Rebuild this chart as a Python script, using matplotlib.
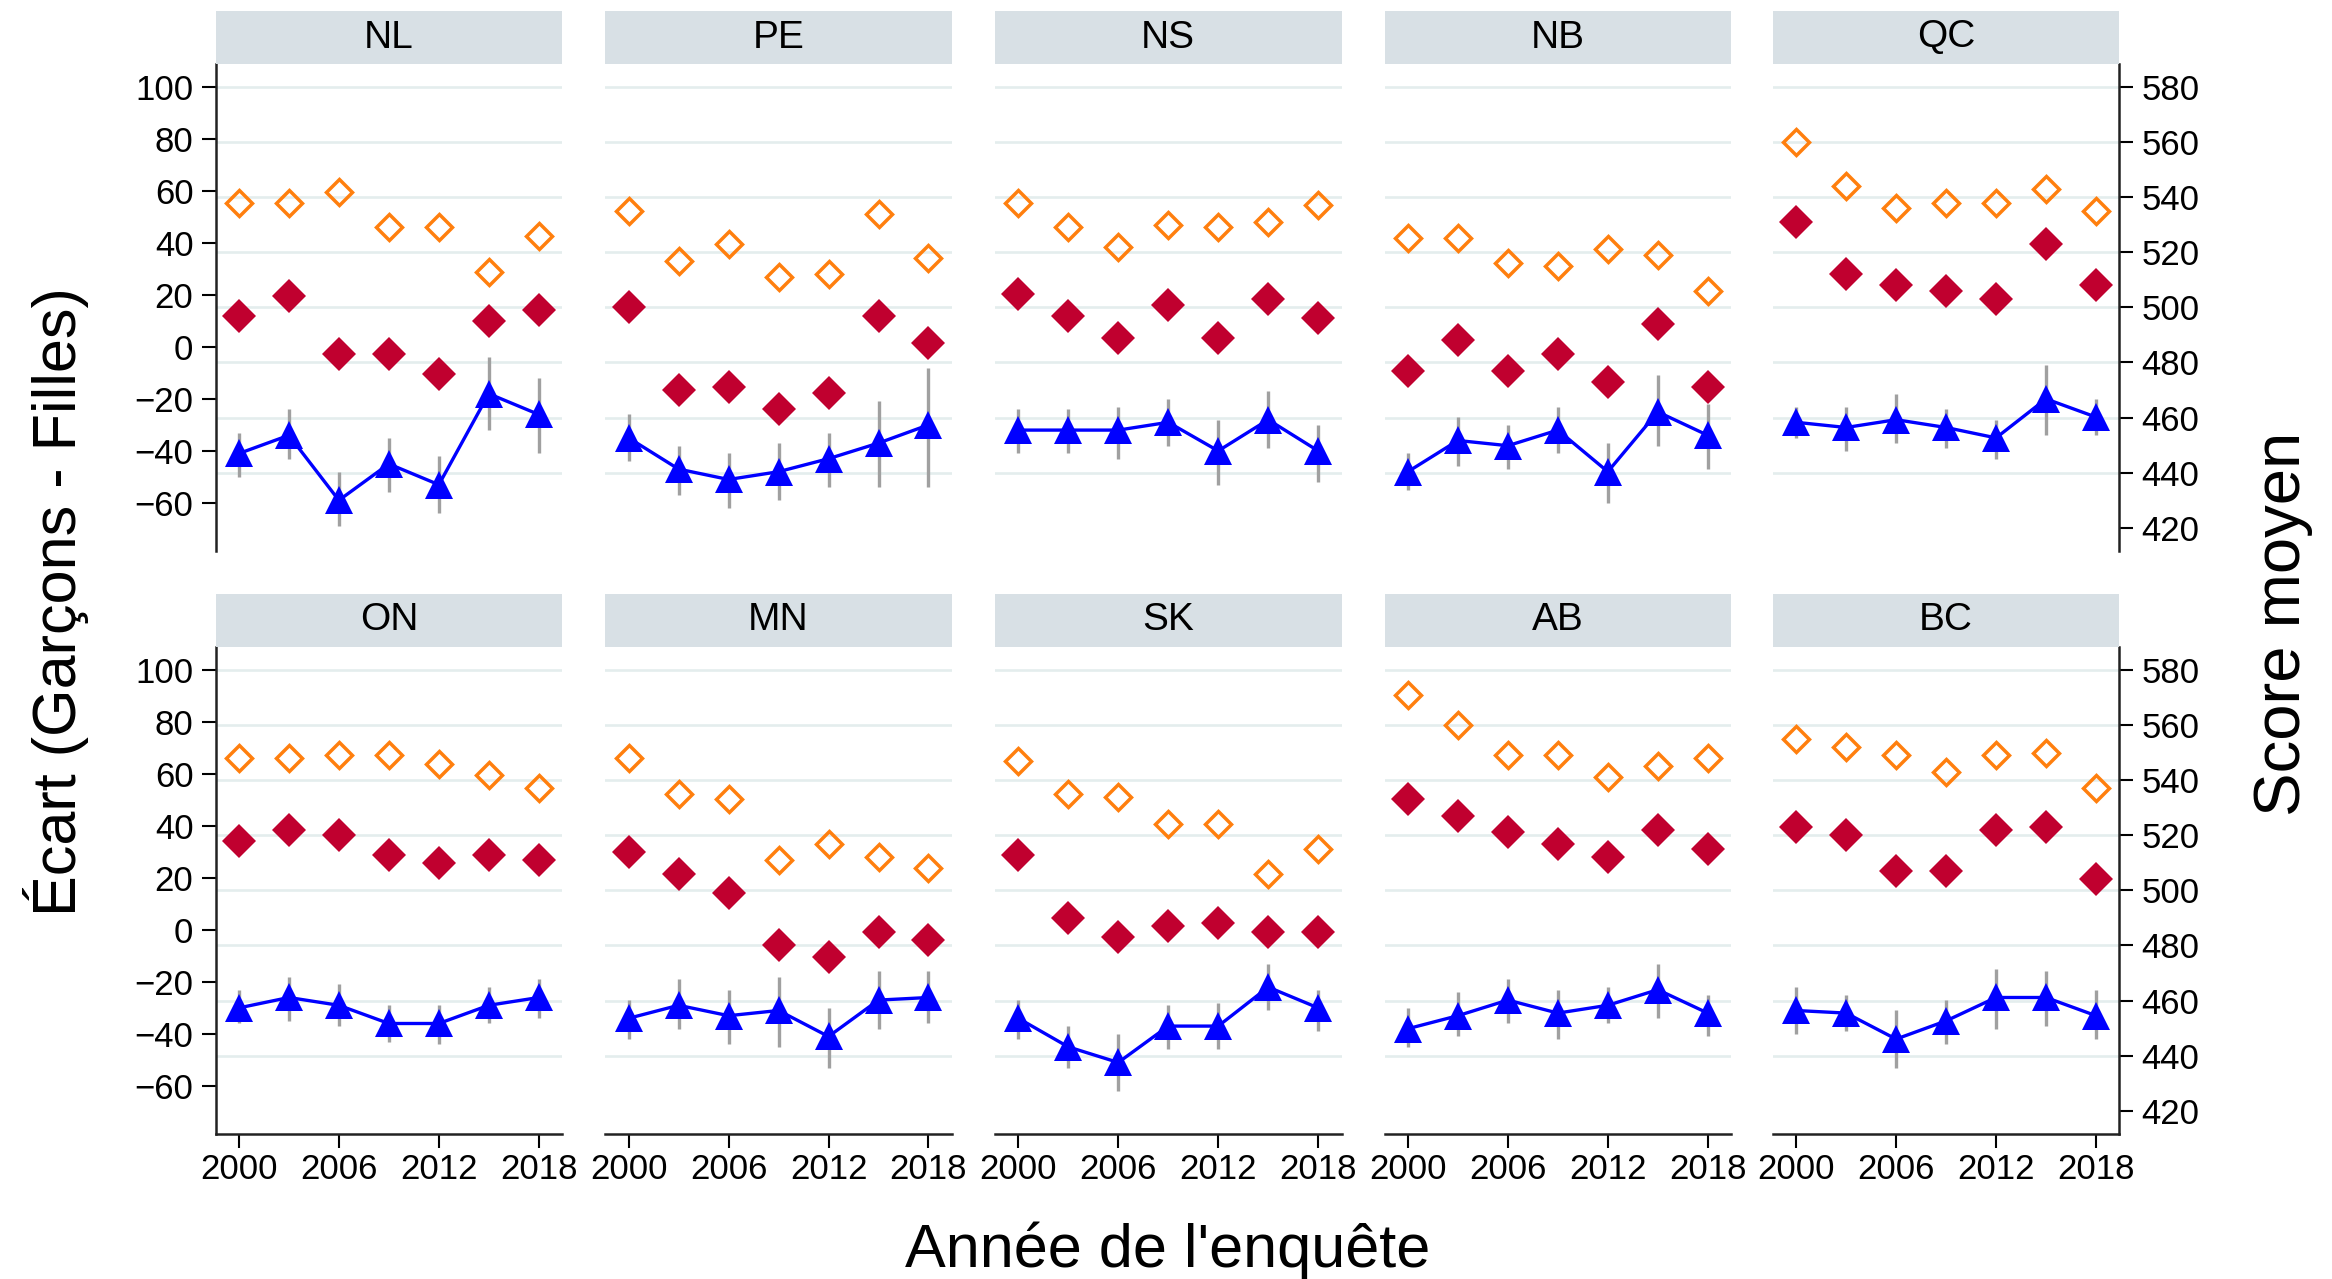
import matplotlib
matplotlib.use("Agg")
import matplotlib.pyplot as plt

plt.rcParams['font.family'] = ['Liberation Sans', 'DejaVu Sans']

# ---------------- data ----------------
provinces = ["NL", "PE", "NS", "NB", "QC", "ON", "MN", "SK", "AB", "BC"]
years = [2000, 2003, 2006, 2009, 2012, 2015, 2018]
xtick_years = [2000, 2006, 2012, 2018]
gap_ticks = [-60, -40, -20, 0, 20, 40, 60, 80, 100]
score_ticks = [420, 440, 460, 480, 500, 520, 540, 560, 580]
grid_scores = [440, 460, 480, 500, 520, 540, 560, 580]

# mean score of girls (open orange diamonds, right axis)
girls_score = [
    [538, 538, 542, 529, 529, 513, 526],  # NL
    [535, 517, 523, 511, 512, 534, 518],  # PE
    [538, 529, 522, 530, 529, 531, 537],  # NS
    [525, 525, 516, 515, 521, 519, 506],  # NB
    [560, 544, 536, 538, 538, 543, 535],  # QC
    [548, 548, 549, 549, 546, 542, 537],  # ON
    [548, 535, 533, 511, 517, 512, 508],  # MN
    [547, 535, 534, 524, 524, 506, 515],  # SK
    [571, 560, 549, 549, 541, 545, 548],  # AB
    [555, 552, 549, 543, 549, 550, 537],  # BC
]
# mean score of boys (filled red diamonds, right axis)
boys_score = [
    [497, 504, 483, 483, 476, 495, 499],
    [500, 470, 471, 463, 469, 497, 487],
    [505, 497, 489, 501, 489, 503, 496],
    [477, 488, 477, 483, 473, 494, 471],
    [531, 512, 508, 506, 503, 523, 508],
    [518, 522, 520, 513, 510, 513, 511],
    [514, 506, 499, 480, 476, 485, 482],
    [513, 490, 483, 487, 488, 485, 485],
    [533, 527, 521, 517, 512, 522, 515],
    [523, 520, 507, 507, 522, 523, 504],
]
# gap boys - girls (blue triangles, left axis)
gap = [
    [-41, -34, -59, -45, -53, -18, -26],
    [-35, -47, -51, -48, -43, -37, -30],
    [-32, -32, -32, -29, -40, -28, -40],
    [-48, -36, -38, -32, -48, -25, -34],
    [-29, -31, -28, -31, -35, -20, -27],
    [-30, -26, -29, -36, -36, -29, -26],
    [-34, -29, -33, -31, -41, -27, -26],
    [-34, -45, -51, -37, -37, -22, -30],
    [-38, -33, -27, -32, -29, -23, -32],
    [-31, -32, -42, -35, -26, -26, -33],
]
gap_low = [
    [-50, -43, -69, -56, -64, -32, -41],
    [-44, -57, -62, -59, -54, -54, -54],
    [-41, -41, -43, -38, -53, -39, -52],
    [-55, -46, -47, -41, -60, -38, -47],
    [-35, -40, -37, -39, -43, -34, -34],
    [-36, -35, -37, -43, -44, -36, -34],
    [-42, -38, -44, -45, -53, -38, -36],
    [-42, -53, -62, -46, -46, -31, -39],
    [-45, -41, -36, -42, -36, -34, -41],
    [-40, -39, -53, -44, -38, -37, -42],
]
gap_high = [
    [-33, -24, -48, -35, -42, -4, -12],
    [-26, -38, -41, -37, -33, -21, -8],
    [-24, -24, -23, -20, -28, -17, -30],
    [-41, -27, -30, -23, -37, -11, -22],
    [-23, -23, -18, -24, -28, -7, -20],
    [-23, -18, -21, -29, -29, -22, -19],
    [-27, -19, -23, -18, -30, -16, -16],
    [-27, -37, -40, -29, -28, -13, -23],
    [-30, -24, -19, -23, -22, -13, -25],
    [-22, -25, -31, -27, -15, -16, -23],
]

# ---------------- style ----------------
W, H = 2332, 1279
c_orange = '#ff7f0e'
c_red = '#c0002f'
c_blue = '#0000ff'
c_ci = '#a0a0a0'
c_grid = '#e4eded'
c_strip = '#d8e0e5'
c_spine = '#222222'

fig = plt.figure(figsize=(W / 100, H / 100), dpi=100)

col_left_px = [215.6, 605.3, 995.0, 1384.6, 1772.8]
panel_w_px = 346.5
row_top_px = [64, 647]
panel_h_px = 487
strip_h_px = 53

for i, prov in enumerate(provinces):
    r, c = divmod(i, 5)
    left = col_left_px[c] / W
    width = panel_w_px / W
    bottom = 1 - (row_top_px[r] + panel_h_px) / H
    height = panel_h_px / H

    ax = fig.add_axes([left, bottom, width, height])
    ax2 = ax.twinx()
    ax.set_xlim(1998.6, 2019.4)
    ax.set_ylim(411.6, 588.3)
    ax2.set_ylim(-78.5, 108.8)

    for v in grid_scores:
        ax.axhline(v, color=c_grid, lw=1.9, zorder=0)

    ax.plot(years, girls_score[i], linestyle='none', marker='D', ms=13.0,
            mfc='none', mec=c_orange, mew=2.5, zorder=3)
    ax.plot(years, boys_score[i], linestyle='none', marker='D', ms=17.5,
            mfc=c_red, mec=c_red, mew=0, zorder=3)

    ax2.vlines(years, gap_low[i], gap_high[i], color=c_ci, lw=2.4, zorder=1)
    ax2.plot(years, gap[i], '-', color=c_blue, lw=2.4, marker='^', ms=19.5,
             mfc=c_blue, mec=c_blue, mew=0, zorder=3)

    for a in (ax, ax2):
        for s in a.spines.values():
            s.set_visible(False)
            s.set_color(c_spine)
            s.set_linewidth(1.8)

    # scores axis on the right
    ax.yaxis.tick_right()
    ax.set_yticks(score_ticks)
    ax.tick_params(axis='y', which='both', length=10, width=1.5, pad=6,
                   labelsize=25, colors='black')
    if c == 4:
        ax.spines['right'].set_visible(True)
    else:
        ax.tick_params(axis='y', right=False, labelright=False,
                       left=False, labelleft=False)

    # gap axis on the left
    ax2.yaxis.tick_left()
    ax2.set_yticks(gap_ticks)
    ax2.tick_params(axis='y', which='both', length=10, width=1.5, pad=6,
                    labelsize=25, colors='black')
    if c == 0:
        ax2.spines['left'].set_visible(True)
    else:
        ax2.tick_params(axis='y', left=False, labelleft=False,
                        right=False, labelright=False)

    ax.set_xticks(xtick_years)
    if r == 1:
        ax.spines['bottom'].set_visible(True)
        ax.tick_params(axis='x', length=10, width=1.5, pad=4, labelsize=25)
    else:
        ax.tick_params(axis='x', bottom=False, labelbottom=False)

    # strip
    sax = fig.add_axes([left, 1 - row_top_px[r] / H, width, strip_h_px / H])
    sax.set_facecolor(c_strip)
    sax.set_xticks([])
    sax.set_yticks([])
    for s in sax.spines.values():
        s.set_visible(False)
    sax.text(0.5, 0.5, prov, ha='center', va='center', fontsize=28,
             transform=sax.transAxes)

fig.text(0.024, 0.5295, "Écart (Garçons - Filles)", rotation=90,
         ha='center', va='center', fontsize=44)
fig.text(0.979, 0.512, "Score moyen", rotation=90,
         ha='center', va='center', fontsize=47)
fig.text(0.5005, 0.009, "Année de l'enquête", ha='center', va='baseline',
         fontsize=44)

fig.savefig("out.png", dpi=100)
